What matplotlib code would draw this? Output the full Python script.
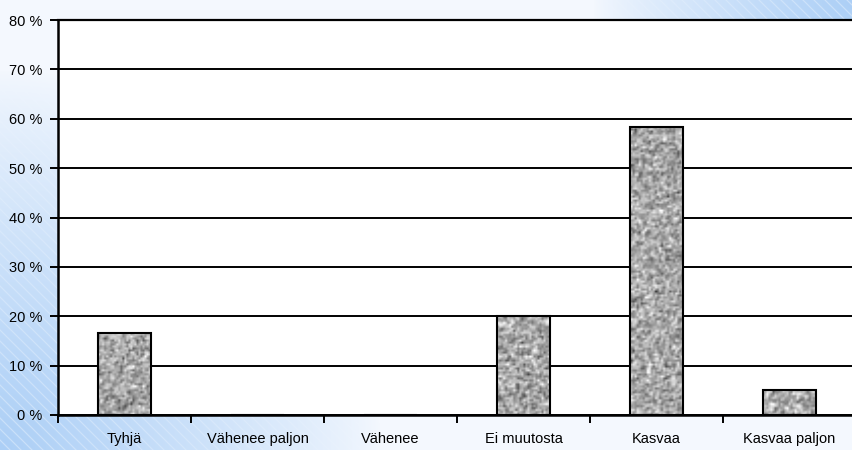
import matplotlib
matplotlib.use("Agg")
import matplotlib.pyplot as plt
import numpy as np

categories = ["Tyhjä", "Vähenee paljon", "Vähenee", "Ei muutosta", "Kasvaa", "Kasvaa paljon"]
values = [16.7, 0, 0, 20.0, 58.3, 5.0]
yticks = [0, 10, 20, 30, 40, 50, 60, 70, 80]
ytick_labels = ["%d %%" % v for v in yticks]

plt.rcParams['font.family'] = ['Liberation Sans', 'DejaVu Sans']

W, H = 853, 450
fig = plt.figure(figsize=(W / 100, H / 100), dpi=100)

# background: blue toward top-right and bottom-left corners, faint diagonal stripes
bg_ax = fig.add_axes([0, 0, 1, 1], zorder=-10)
yy, xx = np.mgrid[0:H, 0:W].astype(float)
d_tr = np.hypot(W - xx, yy)
d_bl = np.hypot(xx, H - yy)
inten = np.maximum(np.clip(1 - d_tr / 260, 0, 1), np.clip(1 - d_bl / 380, 0, 1))
inten = inten ** 0.8
light = np.array([244, 248, 254]) / 255
blue = np.array([172, 207, 246]) / 255
img = light + (blue - light) * inten[..., None]
stripe = (0.5 + 0.5 * np.cos(2 * np.pi * (xx - yy) / 11)) ** 12
img = img + (1 - img) * (0.35 * stripe * inten)[..., None]
bg_ax.imshow(img, aspect='auto', extent=[0, 1, 0, 1])
bg_ax.axis('off')

ax = fig.add_axes([58 / W, 1 - 415 / H, 798 / W, 395 / H])
ax.set_facecolor('white')

x = np.arange(len(categories))
bars = ax.bar(x, values, width=0.4, facecolor='none', edgecolor='black',
              linewidth=1.5, zorder=3)

# granite-like texture inside bars
rng = np.random.default_rng(3)
tex = rng.normal(0, 1, (200, 400))
tex = (tex + np.roll(tex, 1, axis=0) * 0.5 + np.roll(tex, 1, axis=1) * 0.5) / 1.6
for b in bars:
    if b.get_height() <= 0:
        continue
    im = ax.imshow(tex, cmap='gray', vmin=-4.2, vmax=2.2, aspect='auto',
                   extent=[-0.5, 5.5, 0, 80], interpolation='bilinear', zorder=2)
    im.set_clip_path(b)

ax.set_xlim(-0.5, 5.5)
ax.set_ylim(0, 80)
ax.set_yticks(yticks)
ax.set_yticklabels(ytick_labels)
ax.yaxis.grid(True, color='black', linewidth=1.4, zorder=1)
ax.set_axisbelow(True)

ax.set_xticks(np.arange(-0.5, 6.0, 1.0))
ax.set_xticklabels([])
ax.set_xticks(x, minor=True)
ax.set_xticklabels(categories, minor=True)
ax.tick_params(axis='x', which='minor', length=0, pad=12, labelsize=10.5)
ax.tick_params(axis='x', which='major', length=6, width=1.4, direction='out')
ax.tick_params(axis='y', length=6, width=1.4, direction='out', pad=5, labelsize=10.5)

ax.spines['right'].set_visible(False)
ax.spines['top'].set_linewidth(1.6)
for side in ['left', 'bottom']:
    ax.spines[side].set_linewidth(1.8)

fig.savefig("out.png", dpi=100)
